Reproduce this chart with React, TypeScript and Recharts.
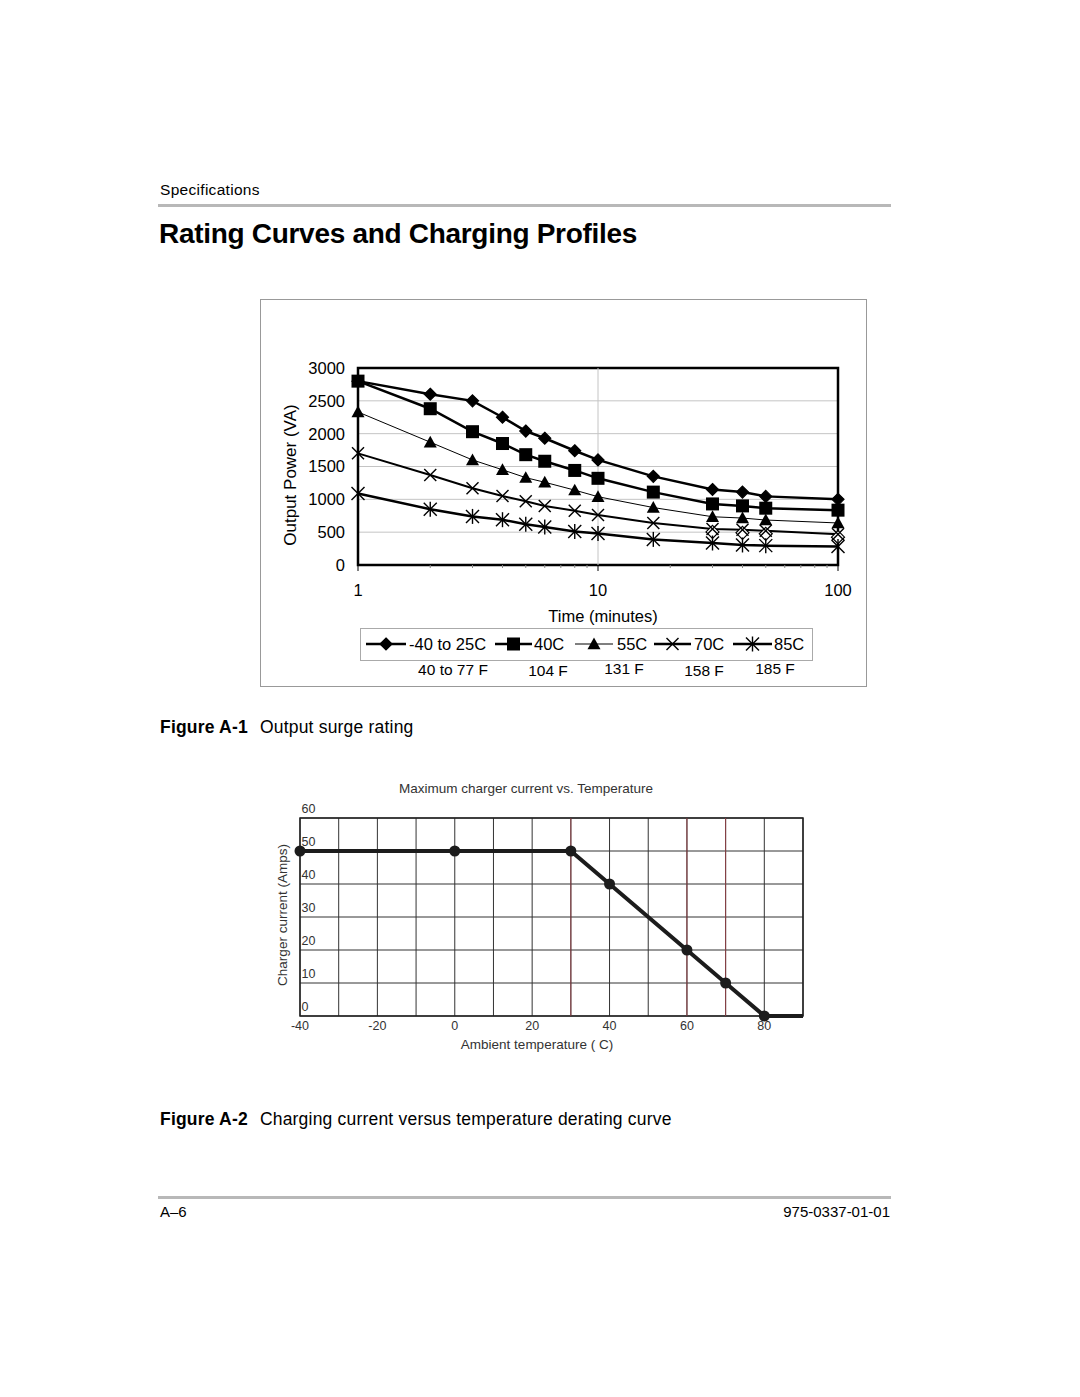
import React from "react";
import {
  LineChart, Line, XAxis, YAxis, CartesianGrid,
  ReferenceLine, ReferenceArea,
} from "recharts";

// Figure A-1: output surge rating (time in minutes, log scale)
const times = [1, 2, 3, 4, 5, 6, 8, 10, 17, 30, 40, 50, 100];
const surge25 = [2800, 2600, 2500, 2250, 2040, 1930, 1740, 1600, 1350, 1150, 1110, 1045, 1000];
const surge40 = [2800, 2380, 2030, 1850, 1680, 1580, 1440, 1320, 1110, 930, 900, 865, 835];
const surge55 = [2330, 1870, 1600, 1450, 1330, 1260, 1140, 1040, 875, 735, 715, 685, 640];
const surge70 = [1700, 1370, 1170, 1050, 970, 900, 825, 760, 640, 550, 535, 520, 470];
const surge85 = [1090, 850, 740, 690, 620, 580, 510, 480, 390, 335, 305, 295, 280];
const timeTicks = [1, 2, 3, 4, 5, 6, 7, 8, 9, 10, 20, 30, 40, 50, 60, 70, 80, 90, 100];
const timeLabels = [1, 10, 100];
const powerTicks = [0, 500, 1000, 1500, 2000, 2500, 3000];

const seriesNames = ["-40 to 25C", "40C", "55C", "70C", "85C"];
const fahrenheit = ["40 to 77 F", "104 F", "131 F", "158 F", "185 F"];

// Figure A-2: charger current vs temperature
const temps = [-40, 0, 30, 40, 60, 70, 80, 90];
const current = [50, 50, 50, 40, 20, 10, 0, 0];
const tempTicks = [-40, -30, -20, -10, 0, 10, 20, 30, 40, 50, 60, 70, 80, 90];
const tempLabels = [-40, -20, 0, 20, 40, 60, 80];
const currentTicks = [0, 10, 20, 30, 40, 50, 60];
const redGridTemps = [30, 60, 70];

const surgeData = times.map((t, i) => ({
  t,
  a: surge25[i],
  b: surge40[i],
  c: surge55[i],
  d: surge70[i],
  e: surge85[i],
}));

const chargeData = temps.map((temp, i) => ({ temp, amps: current[i] }));

const FONT = '"Liberation Sans", Arial, Helvetica, sans-serif';

// ---- markers ----
function Diamond({ cx, cy, s = 6, fill = "#000" }: any) {
  return <path d={`M${cx},${cy - s}L${cx + s},${cy}L${cx},${cy + s}L${cx - s},${cy}Z`} fill={fill} stroke="#000" strokeWidth={1.2} />;
}
function Square({ cx, cy, s = 6.5 }: any) {
  return <rect x={cx - s} y={cy - s} width={s * 2} height={s * 2} fill="#000" />;
}
function Triangle({ cx, cy, s = 6.5 }: any) {
  return <path d={`M${cx},${cy - s}L${cx + s},${cy + s * 0.8}L${cx - s},${cy + s * 0.8}Z`} fill="#000" />;
}
function Cross({ cx, cy, s = 6 }: any) {
  return (
    <g stroke="#000" strokeWidth={1.4}>
      <line x1={cx - s} y1={cy - s} x2={cx + s} y2={cy + s} />
      <line x1={cx - s} y1={cy + s} x2={cx + s} y2={cy - s} />
    </g>
  );
}
function Star({ cx, cy, s = 6.5 }: any) {
  return (
    <g stroke="#000" strokeWidth={1.4}>
      <line x1={cx - s} y1={cy - s} x2={cx + s} y2={cy + s} />
      <line x1={cx - s} y1={cy + s} x2={cx + s} y2={cy - s} />
      <line x1={cx} y1={cy - s - 1} x2={cx} y2={cy + s + 1} />
    </g>
  );
}

const markers = [Diamond, Square, Triangle, Cross, Star];

function dotOf(idx: number) {
  const M = markers[idx];
  return (p: any) => {
    if (p.cx == null || p.cy == null) return <g key={`m${idx}-${p.index}`} />;
    // the 70C points past 30 min show an extra open diamond in the original
    if (idx === 3 && times[p.index] >= 30) {
      return (
        <g key={`m${idx}-${p.index}`}>
          <Diamond cx={p.cx} cy={p.cy + 3} s={6.5} fill="#fff" />
          <M cx={p.cx} cy={p.cy} />
        </g>
      );
    }
    return <M key={`m${idx}-${p.index}`} cx={p.cx} cy={p.cy} />;
  };
}

function TimeTick(props: any) {
  const { x, y, payload } = props;
  const major = timeLabels.includes(payload.value);
  return (
    <g>
      <line x1={x} x2={x} y1={y} y2={y + (major ? 6 : 3)} stroke={major ? "#000" : "#888"} strokeWidth={1} />
      {major && (
        <text x={x} y={y + 25} dy="0.35em" textAnchor="middle" fontSize={16.5} fontFamily={FONT} fill="#000">
          {payload.value}
        </text>
      )}
    </g>
  );
}

function CurrentTick(props: any) {
  const { x, y, payload } = props;
  return (
    <text x={x + 1.5} y={y - 9} dy="0.35em" textAnchor="start" fontSize={12.5} fontFamily={FONT} fill="#333">
      {payload.value}
    </text>
  );
}

function TempTick(props: any) {
  const { x, y, payload } = props;
  if (!tempLabels.includes(payload.value)) return <g />;
  return (
    <text x={x} y={y + 10} dy="0.35em" textAnchor="middle" fontSize={12.5} fontFamily={FONT} fill="#333">
      {payload.value}
    </text>
  );
}

const lineWidths = [2.5, 2.5, 1, 2, 2.5];
const keys = ["a", "b", "c", "d", "e"];

function SurgeChart() {
  return (
    <div style={{ position: "absolute", left: 260, top: 299, width: 607, height: 388, boxSizing: "border-box", border: "1px solid #999" }}>
      <div style={{ position: "absolute", left: -1, top: -1 }}>
        <LineChart width={607} height={388} data={surgeData} margin={{ top: 69, right: 29, bottom: 0, left: 0 }}>
          <CartesianGrid vertical={false} stroke="#c4c4c4" strokeWidth={1} />
          <ReferenceLine x={10} stroke="#c4c4c4" strokeWidth={1} />
          <XAxis
            dataKey="t" type="number" scale="log" domain={[1, 100]} ticks={timeTicks}
            interval={0} height={122} tickSize={0} tickMargin={0} axisLine={false}
            tick={<TimeTick />}
          />
          <YAxis
            type="number" domain={[0, 3000]} ticks={powerTicks} width={98}
            tickSize={6} tickMargin={7} tickLine={false} axisLine={false}
            tick={{ fontSize: 16.5, fill: "#000", fontFamily: FONT }}
          />
          <ReferenceArea x1={1} x2={100} y1={0} y2={3000} fill="none" stroke="#000" strokeWidth={2.5} ifOverflow="visible" />
          {keys.map((k, i) => (
            <Line
              key={k} dataKey={k} type="linear" stroke="#000" strokeWidth={lineWidths[i]}
              dot={dotOf(i)} activeDot={false} isAnimationActive={false}
            />
          ))}
          <text x={30} y={176} transform="rotate(-90 30 176)" textAnchor="middle" dy="0.35em" fontSize={17} fontFamily={FONT} fill="#000">
            Output Power (VA)
          </text>
          <text x={343} y={317} textAnchor="middle" dy="0.35em" fontSize={16.5} fontFamily={FONT} fill="#000">
            Time (minutes)
          </text>
        </LineChart>
      </div>
      {/* legend */}
      <div style={{ position: "absolute", left: 99, top: 328, width: 453, height: 33, boxSizing: "border-box", border: "1px solid #aaa", background: "#fff" }} />
      <svg style={{ position: "absolute", left: 0, top: 0 }} width={607} height={388}>
        {[
          { l1: 105, l2: 145, tx: 148 },
          { l1: 234, l2: 271, tx: 273 },
          { l1: 314, l2: 352, tx: 356 },
          { l1: 393, l2: 430, tx: 433 },
          { l1: 472, l2: 511, tx: 513 },
        ].map((g, i) => {
          const M = markers[i];
          const cx = (g.l1 + g.l2) / 2;
          return (
            <g key={i}>
              <line x1={g.l1} x2={g.l2} y1={344} y2={344} stroke="#000" strokeWidth={i === 2 ? 1 : 2.5} />
              <M cx={cx} cy={344} />
              <text x={g.tx} y={344} dy="0.35em" fontSize={16.5} fontFamily={FONT} fill="#000">
                {seriesNames[i]}
              </text>
            </g>
          );
        })}
        {[
          { x: 192, y: 370 },
          { x: 287, y: 371 },
          { x: 363, y: 369 },
          { x: 443, y: 371 },
          { x: 514, y: 369 },
        ].map((p, i) => (
          <text key={i} x={p.x} y={p.y} dy="0.35em" textAnchor="middle" fontSize={15.5} fontFamily={FONT} fill="#000">
            {fahrenheit[i]}
          </text>
        ))}
      </svg>
    </div>
  );
}

function ChargeChart() {
  return (
    <div style={{ position: "absolute", left: 260, top: 770 }}>
      <LineChart width={560} height={300} data={chargeData} margin={{ top: 48, right: 17, bottom: 0, left: 0 }}>
        <CartesianGrid stroke="#333" strokeWidth={1} />
        {redGridTemps.map((t) => (
          <ReferenceLine key={t} x={t} stroke="#8c3f45" strokeWidth={1} />
        ))}
        <XAxis
          dataKey="temp" type="number" domain={[-40, 90]} ticks={tempTicks} interval={0}
          height={54} tickSize={0} tickMargin={0} axisLine={false} tick={<TempTick />}
        />
        <YAxis
          type="number" domain={[0, 60]} ticks={currentTicks} width={40} interval={0}
          tickSize={0} tickMargin={0} axisLine={false} tick={<CurrentTick />}
        />
        <ReferenceArea x1={-40} x2={90} y1={0} y2={60} fill="none" stroke="#222" strokeWidth={1.5} ifOverflow="visible" />
        <Line
          dataKey="amps" type="linear" stroke="#1c1c1c" strokeWidth={4} activeDot={false}
          isAnimationActive={false}
          dot={(p: any) =>
            p.index === temps.length - 1 ? (
              <g key={`c${p.index}`} />
            ) : (
              <circle key={`c${p.index}`} cx={p.cx} cy={p.cy} r={5.5} fill="#1c1c1c" />
            )
          }
        />
        <text x={266} y={18} textAnchor="middle" dy="0.35em" fontSize={13.5} fontFamily={FONT} fill="#333">
          Maximum charger current vs. Temperature
        </text>
        <text x={22} y={145} transform="rotate(-90 22 145)" textAnchor="middle" dy="0.35em" fontSize={13.5} fontFamily={FONT} fill="#333">
          Charger current (Amps)
        </text>
        <text x={277} y={274} textAnchor="middle" dy="0.35em" fontSize={13.5} fontFamily={FONT} fill="#333">
          Ambient temperature (  C)
        </text>
      </LineChart>
    </div>
  );
}

const caption = { position: "absolute" as const, left: 160, fontSize: 17.5, lineHeight: "22px", letterSpacing: 0.2, whiteSpace: "pre" as const };

export default function App() {
  return (
    <div style={{ position: "absolute", left: 0, top: 0, width: 1080, height: 1397, background: "#fff", fontFamily: FONT, color: "#000" }}>
      <div style={{ position: "absolute", left: 160, top: 180, fontSize: 15.5, letterSpacing: 0.3, lineHeight: "20px" }}>Specifications</div>
      <div style={{ position: "absolute", left: 158, top: 204, width: 733, height: 3, background: "#b8b8b8" }} />
      <div style={{ position: "absolute", left: 159, top: 217, fontSize: 28, fontWeight: "bold", lineHeight: "34px", letterSpacing: -0.3 }}>
        Rating Curves and Charging Profiles
      </div>

      <SurgeChart />

      <div style={{ ...caption, top: 716 }}>
        <b>Figure A-1</b><span style={{ marginLeft: 12 }}>Output surge rating</span>
      </div>

      <ChargeChart />

      <div style={{ ...caption, top: 1108 }}>
        <b>Figure A-2</b><span style={{ marginLeft: 12 }}>Charging current versus temperature derating curve</span>
      </div>

      <div style={{ position: "absolute", left: 158, top: 1196, width: 733, height: 3, background: "#b8b8b8" }} />
      <div style={{ position: "absolute", left: 160, top: 1202, fontSize: 15, lineHeight: "20px" }}>A–6</div>
      <div style={{ position: "absolute", right: 190, top: 1202, fontSize: 15, lineHeight: "20px" }}>975-0337-01-01</div>
    </div>
  );
}
